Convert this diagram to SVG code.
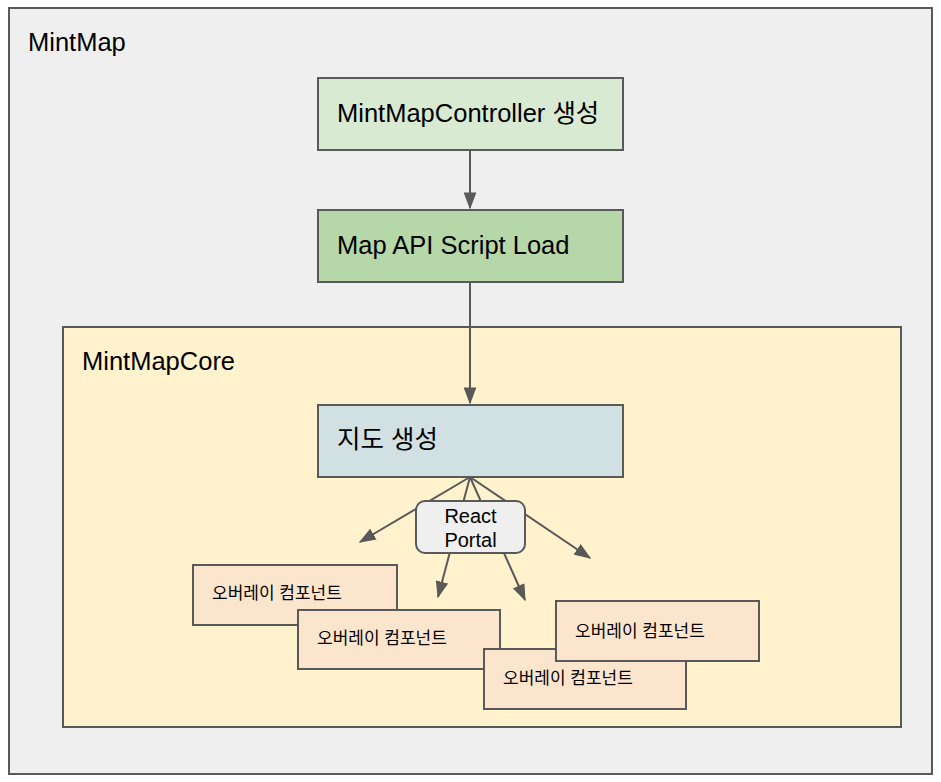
<svg xmlns="http://www.w3.org/2000/svg" width="941" height="782" viewBox="0 0 941 782">
<style>
.box{stroke:#595959;stroke-width:2}
.t{font-family:"Liberation Sans","Noto Sans CJK KR",Arial,sans-serif;fill:#000}
.big{font-size:25.5px}
.mid{font-size:20px}
.sm{font-size:17px}
.ov{fill:#fce5cd;stroke:#595959;stroke-width:2}
.ln{stroke:#595959;stroke-width:2;fill:none;marker-end:url(#ah)}
</style>
<defs>
<marker id="ah" viewBox="0 0 12 9" refX="11" refY="4.5" markerWidth="8.5" markerHeight="6.4" markerUnits="strokeWidth" orient="auto">
<path d="M0,0 L12,4.5 L0,9 z" fill="#595959"/>
</marker>
</defs>
<g id="mintmap">
<rect class="box" x="9" y="8" width="923" height="766" fill="#efefef"/>
<text class="t big" x="28" y="51">MintMap</text>
</g>
<g id="controller">
<rect class="box" x="318" y="78" width="305" height="72" fill="#d9ead3"/>
<text class="t big" x="337" y="122">MintMapController 생성</text>
</g>
<g id="scriptload">
<rect class="box" x="318" y="210" width="305" height="72" fill="#b6d7a8"/>
<text class="t big" x="337" y="254">Map API Script Load</text>
</g>
<g id="mintmapcore">
<rect class="box" x="63" y="327" width="838" height="400" fill="#fff2cc"/>
<text class="t big" x="82" y="370">MintMapCore</text>
</g>
<g id="mapcreate">
<rect class="box" x="318" y="405" width="305" height="72" fill="#d0e0e3"/>
<text class="t big" x="337" y="448">지도 생성</text>
</g>
<g id="connectors">
<line class="ln" x1="470" y1="150" x2="470" y2="208"/>
<line class="ln" x1="470" y1="282" x2="470" y2="403"/>
<line class="ln" x1="470" y1="477" x2="360" y2="542"/>
<line class="ln" x1="470" y1="477" x2="438" y2="597"/>
<line class="ln" x1="470" y1="477" x2="525" y2="600"/>
<line class="ln" x1="470" y1="477" x2="590" y2="558"/>
</g>
<g id="reactportal">
<rect class="box" x="416" y="501" width="109" height="52" rx="9" fill="#efefef"/>
<text class="t mid" x="470.5" y="523" text-anchor="middle">React</text>
<text class="t mid" x="470.5" y="547" text-anchor="middle">Portal</text>
</g>
<g id="overlay1">
<rect class="ov" x="193" y="565" width="204" height="60"/>
<text class="t sm" x="212" y="599">오버레이 컴포넌트</text>
</g>
<g id="overlay2">
<rect class="ov" x="298" y="610" width="202" height="59"/>
<text class="t sm" x="317" y="644">오버레이 컴포넌트</text>
</g>
<g id="overlay4">
<rect class="ov" x="484" y="649" width="202" height="60"/>
<text class="t sm" x="503" y="684">오버레이 컴포넌트</text>
</g>
<g id="overlay3">
<rect class="ov" x="556" y="601" width="203" height="60"/>
<text class="t sm" x="575" y="637">오버레이 컴포넌트</text>
</g>
</svg>
